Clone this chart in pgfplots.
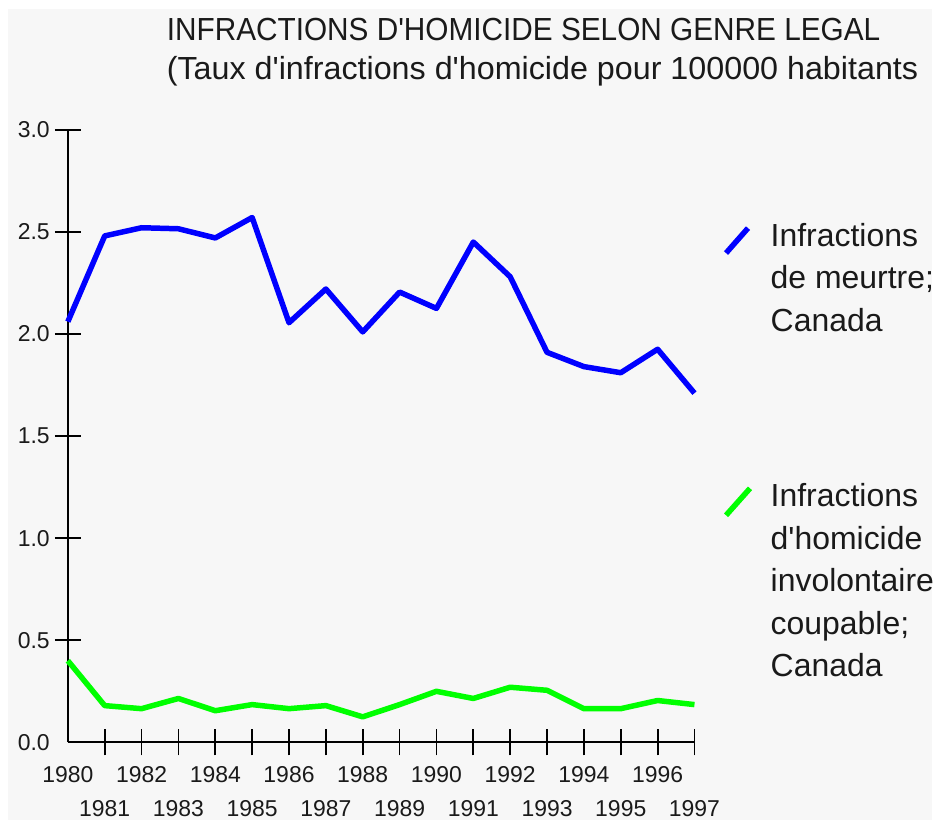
\documentclass[border=0pt]{standalone}
\usepackage{pgfplots}
\pgfplotsset{compat=1.18}
\usepackage{fontspec}
\setmainfont{Liberation Sans}
\newfontfamily\lib{Liberation Sans}
\definecolor{bg}{HTML}{F7F7F7}
\definecolor{txt}{HTML}{1A1A1A}
\definecolor{bblue}{HTML}{0000FF}
\definecolor{bgreen}{HTML}{00FF00}
\begin{document}
\begin{tikzpicture}
\fill[white] (0pt,0pt) rectangle (934pt,822pt);
\fill[bg] (8pt,0pt) rectangle (934pt,813pt);
\node[anchor=base west, inner sep=0pt, font=\lib\fontsize{32}{38}\selectfont, text=txt] at (167pt,781pt) {\resizebox{715pt}{\height}{INFRACTIONS D'HOMICIDE SELON GENRE LEGAL}};
\node[anchor=base west, inner sep=0pt, font=\lib\fontsize{32}{38}\selectfont, text=txt] at (167pt,742pt) {\resizebox{753pt}{\height}{(Taux d'infractions d'homicide pour 100000 habitants}};
\begin{axis}[
  at={(68pt,78pt)}, anchor=south west,
  scale only axis, width=628pt, height=614pt,
  xmin=1980, xmax=1997, ymin=0, ymax=3,
  axis x line*=bottom, axis y line*=left,
  axis line style={-, line width=1.8pt, black},
  tick align=center, major tick length=26pt,
  tick style={line width=1.8pt, black},
  xtick={1981,1982,1983,1984,1985,1986,1987,1988,1989,1990,1991,1992,1993,1994,1995,1996,1997},
  xticklabels={{\strut\\\strut 1981},{\strut 1982},{\strut\\\strut 1983},{\strut 1984},{\strut\\\strut 1985},{\strut 1986},{\strut\\\strut 1987},{\strut 1988},{\strut\\\strut 1989},{\strut 1990},{\strut\\\strut 1991},{\strut 1992},{\strut\\\strut 1993},{\strut 1994},{\strut\\\strut 1995},{\strut 1996},{\strut\\\strut 1997}},
  xticklabel style={align=center, anchor=north, inner sep=0pt, yshift=-3.2pt, font=\lib\fontsize{23}{34}\selectfont, text=txt},
  ytick={0.5,1,1.5,2,2.5,3},
  yticklabels={0.5,1.0,1.5,2.0,2.5,3.0},
  yticklabel style={anchor=east, inner sep=0pt, xshift=-5pt, font=\lib\fontsize{23}{34}\selectfont, text=txt},
  clip=false,
  legend style={at={(1.046,0.8476)}, anchor=north west, draw=none, fill=none, inner sep=0pt, outer sep=0pt,
    font=\lib\fontsize{32}{42.5}\selectfont, text=txt, row sep=151.6pt, column sep=18pt,
    nodes={align=left, inner sep=0pt}},
  legend cell align=left,
]
\addplot[bblue, line width=5.5pt, line join=round,
  legend image code/.code={\draw[bblue, line width=5.5pt] (0pt,24.8pt) -- (22pt,49.8pt);}]
  coordinates {(1980,2.06) (1981,2.48) (1982,2.52) (1983,2.515) (1984,2.47) (1985,2.57) (1986,2.055) (1987,2.22) (1988,2.01) (1989,2.205) (1990,2.125) (1991,2.45) (1992,2.28) (1993,1.91) (1994,1.84) (1995,1.81) (1996,1.925) (1997,1.71)};
\addlegendentry{Infractions\\de meurtre;\\Canada}
\addplot[bgreen, line width=5.5pt, line join=round,
  legend image code/.code={\draw[bgreen, line width=5.5pt] (0pt,65.8pt) -- (24pt,92.8pt);}]
  coordinates {(1980,0.40) (1981,0.18) (1982,0.165) (1983,0.215) (1984,0.155) (1985,0.185) (1986,0.165) (1987,0.18) (1988,0.125) (1989,0.185) (1990,0.25) (1991,0.215) (1992,0.27) (1993,0.255) (1994,0.165) (1995,0.165) (1996,0.205) (1997,0.185)};
\addlegendentry{Infractions\\d'homicide\\involontaire\\coupable;\\Canada}
\node[anchor=east, inner sep=0pt, xshift=-18pt, font=\lib\fontsize{23}{34}\selectfont, text=txt] at (axis cs:1980,0) {0.0};
\node[anchor=north, align=center, inner sep=0pt, yshift=-16.2pt, font=\lib\fontsize{23}{34}\selectfont, text=txt] at (axis cs:1980,0) {\strut 1980};
\end{axis}
\end{tikzpicture}
\end{document}
